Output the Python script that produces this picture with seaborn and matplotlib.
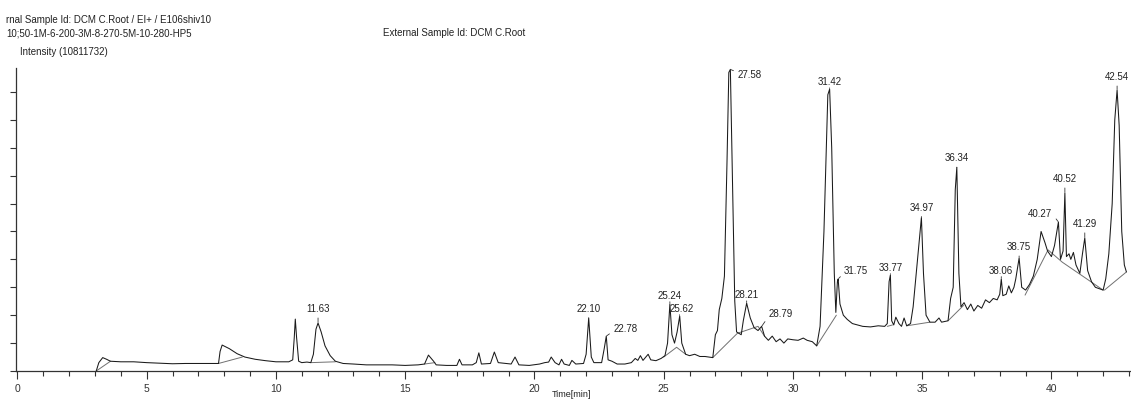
import matplotlib
matplotlib.use("Agg")
import pandas as pd
import matplotlib.pyplot as plt
import seaborn as sns
from matplotlib.ticker import MultipleLocator

# chromatogram trace: time [min], intensity [x 1e6 counts]
trace_time = [
    3.05, 3.15, 3.3, 3.45, 3.6, 4.0, 4.5, 5.0, 5.5, 6.0, 6.5, 7.0, 7.5, 7.78,
    7.84, 7.92, 8.2, 8.5, 8.8, 9.2, 9.6, 10.0, 10.5, 10.65, 10.71, 10.75, 10.8,
    10.88, 11.0, 11.2, 11.35, 11.45, 11.55, 11.63, 11.75, 11.9, 12.1, 12.3, 12.6,
    13.0, 13.5, 14.0, 14.5, 15.0, 15.5, 15.75, 15.9, 16.1, 16.2, 16.6, 17.0,
    17.1, 17.2, 17.6, 17.75, 17.85, 17.95, 18.3, 18.45, 18.6, 19.1, 19.25, 19.4,
    19.8, 20.2, 20.4, 20.55, 20.65, 20.8, 20.95, 21.05, 21.15, 21.35, 21.45,
    21.6, 21.9, 22.0, 22.1, 22.2, 22.3, 22.6, 22.7, 22.78, 22.85, 23.0, 23.2,
    23.5, 23.75, 23.9, 24.0, 24.1, 24.2, 24.4, 24.5, 24.7, 24.9, 25.05, 25.15,
    25.24, 25.32, 25.42, 25.52, 25.62, 25.7, 25.85, 26.0, 26.2, 26.4, 26.6,
    26.9, 27.0, 27.08, 27.15, 27.25, 27.35, 27.45, 27.52, 27.58, 27.68, 27.75,
    27.82, 28.0, 28.08, 28.21, 28.35, 28.5, 28.65, 28.79, 28.9, 29.05, 29.2,
    29.35, 29.5, 29.65, 29.8, 30.0, 30.2, 30.4, 30.55, 30.75, 30.92, 31.05,
    31.2, 31.35, 31.42, 31.5, 31.6, 31.66, 31.72, 31.75, 31.82, 31.95, 32.1,
    32.3, 32.5, 32.7, 33.0, 33.3, 33.55, 33.65, 33.72, 33.77, 33.82, 33.9,
    33.98, 34.1, 34.2, 34.3, 34.4, 34.55, 34.65, 34.8, 34.97, 35.05, 35.15,
    35.3, 35.5, 35.65, 35.75, 36.0, 36.1, 36.2, 36.28, 36.34, 36.42, 36.5,
    36.62, 36.75, 36.88, 37.0, 37.15, 37.3, 37.45, 37.6, 37.75, 37.9, 38.0,
    38.06, 38.12, 38.25, 38.35, 38.45, 38.55, 38.62, 38.75, 38.85, 39.0, 39.15,
    39.3, 39.45, 39.6, 39.75, 39.85, 40.0, 40.12, 40.27, 40.35, 40.45, 40.52,
    40.58, 40.68, 40.75, 40.85, 40.95, 41.1, 41.2, 41.29, 41.4, 41.55, 41.7,
    41.85, 42.0, 42.1, 42.22, 42.35, 42.45, 42.54, 42.62, 42.72, 42.82, 42.9,
]
trace_intensity = [
    0.0, 0.3, 0.48, 0.42, 0.35, 0.33, 0.33, 0.3, 0.28, 0.26, 0.27, 0.27, 0.27, 0.27,
    0.7, 0.93, 0.8, 0.62, 0.5, 0.42, 0.37, 0.33, 0.33, 0.4, 1.2, 1.86, 1.2,
    0.35, 0.3, 0.32, 0.3, 0.6, 1.5, 1.72, 1.4, 0.9, 0.55, 0.35, 0.27,
    0.25, 0.22, 0.22, 0.22, 0.2, 0.22, 0.25, 0.57, 0.35, 0.22, 0.2, 0.2,
    0.42, 0.22, 0.22, 0.3, 0.65, 0.25, 0.27, 0.68, 0.3, 0.25, 0.5, 0.22,
    0.2, 0.25, 0.3, 0.32, 0.5, 0.3, 0.22, 0.42, 0.25, 0.2, 0.38,
    0.25, 0.27, 0.6, 1.9, 0.5, 0.3, 0.3, 0.8, 1.25, 0.4, 0.35, 0.25,
    0.25, 0.3, 0.45, 0.38, 0.55, 0.38, 0.6, 0.4, 0.37, 0.45, 0.55, 1.0,
    2.4, 1.3, 1.0, 1.4, 1.97, 1.0, 0.6, 0.55, 0.6, 0.52, 0.52,
    0.48, 1.3, 1.45, 2.2, 2.6, 3.4, 7.5, 10.7, 10.81, 6.0, 2.5,
    1.4, 1.3, 1.8, 2.43, 1.9, 1.55, 1.45, 1.6, 1.25, 1.1, 1.25,
    1.05, 1.15, 1.0, 1.15, 1.12, 1.1, 1.18, 1.1, 1.05, 0.9, 1.6,
    5.0, 9.9, 10.1, 8.0, 3.5, 2.1, 3.2, 3.3, 2.4, 2.0, 1.85,
    1.7, 1.65, 1.6, 1.58, 1.62, 1.6, 1.7, 3.2, 3.44, 1.8, 1.65,
    1.93, 1.7, 1.6, 1.9, 1.62, 1.7, 2.3, 3.8, 5.5, 3.5, 2.0,
    1.75, 1.75, 1.9, 1.75, 1.8, 2.6, 3.0, 6.5, 7.3, 3.5, 2.3,
    2.45, 2.2, 2.4, 2.15, 2.35, 2.25, 2.55, 2.45, 2.6, 2.55, 2.75,
    3.3, 2.7, 2.75, 3.05, 2.8, 3.0, 3.3, 4.05, 3.0, 2.9, 3.1,
    3.4, 4.0, 5.0, 4.6, 4.3, 4.1, 4.5, 5.34, 4.0, 4.3, 6.38,
    4.1, 4.2, 4.0, 4.25, 3.8, 3.5, 4.2, 4.77, 3.6, 3.2, 3.0,
    2.95, 2.9, 3.3, 4.2, 6.0, 9.0, 10.07, 8.8, 5.0, 3.8, 3.55,
]

# straight integration baselines drawn under the peaks
baseline_seg = [1, 1, 2, 2, 3, 3, 4, 4, 5, 5, 5, 6, 6, 6, 6, 7, 7,
                8, 8, 9, 9, 10, 10, 11, 11, 11, 11, 12, 12]
baseline_time = [3.05, 3.6, 7.78, 8.7, 11.35, 12.3, 15.75, 16.15,
                 25.0, 25.5, 25.85, 26.9, 27.85, 28.65, 28.9, 30.92, 31.68,
                 33.65, 33.85, 34.4, 35.3, 36.0, 36.6,
                 38.98, 39.87, 40.42, 42.0, 42.05, 42.9]
baseline_intensity = [0.0, 0.35, 0.27, 0.5, 0.3, 0.33, 0.25, 0.3,
                      0.5, 0.85, 0.6, 0.48, 1.35, 1.6, 1.25, 0.9, 2.0,
                      1.6, 1.65, 1.62, 1.75, 1.8, 2.35,
                      2.72, 4.34, 3.9, 2.9, 2.9, 3.55]

peak_labels = ["11.63", "22.10", "22.78", "25.24", "25.62", "27.58", "28.21",
               "28.79", "31.42", "31.75", "33.77", "34.97", "36.34", "38.06",
               "38.75", "40.27", "40.52", "41.29", "42.54"]
peak_time = [11.63, 22.10, 22.78, 25.24, 25.62, 27.58, 28.21, 28.79, 31.42,
             31.75, 33.77, 34.97, 36.34, 38.06, 38.75, 40.27, 40.52, 41.29, 42.54]
peak_height = [1.72, 1.9, 1.25, 2.4, 1.97, 10.81, 2.43, 1.6, 10.1, 3.3,
               3.44, 5.5, 7.3, 3.3, 4.05, 5.34, 6.38, 4.77, 10.07]

header_line1 = "rnal Sample Id: DCM C.Root / EI+ / E106shiv10"
header_line2 = "10;50-1M-6-200-3M-8-270-5M-10-280-HP5"
external_id = "External Sample Id: DCM C.Root"
y_title = "Intensity (10811732)"
x_title = "Time[min]"

# label offsets in pixels (dx, dy), horizontal alignment, leader anchor on text
label_layout = [
    (0, 14, "center", (0.5, 0)), (0, 9, "center", (0.5, 0)),
    (7, 7, "left", (0, 0.3)), (0, 8, "center", (0.5, 0)),
    (2, 7, "center", (0.4, 0)), (7, -6, "left", (0, 0.8)),
    (0, 8, "center", (0.5, 0)), (7, 12, "left", (0, 0.3)),
    (0, 7, "center", (0.5, 0)), (6, 8, "left", (0, 0.3)),
    (0, 7, "center", (0.5, 0)), (0, 10, "center", (0.5, 0)),
    (0, 9, "center", (0.5, 0)), (0, 8, "center", (0.5, 0)),
    (0, 11, "center", (0.5, 0)), (-6, 8, "right", (1, 0.5)),
    (0, 14, "center", (0.5, 0)), (0, 14, "center", (0.5, 0)),
    (0, 13, "center", (0.5, 0)),
]

sns.set_style("ticks")
plt.rcParams["font.family"] = ["Liberation Sans", "DejaVu Sans"]

trace = pd.DataFrame({"time": trace_time, "intensity": trace_intensity})
base = pd.DataFrame({"seg": baseline_seg, "time": baseline_time,
                     "intensity": baseline_intensity})

fig = plt.figure(figsize=(11.31, 4.03), dpi=100)
ax = fig.add_axes([0.01415, 0.0794, 0.9859, 0.7519])

sns.lineplot(data=base, x="time", y="intensity", units="seg", estimator=None,
             sort=False, color="#707070", linewidth=0.7, ax=ax)
sns.lineplot(data=trace, x="time", y="intensity", estimator=None, sort=False,
             color="#1a1a1a", linewidth=0.75, ax=ax)

for lab, t, h, (dx, dy, ha, rp) in zip(peak_labels, peak_time, peak_height, label_layout):
    ax.annotate(lab, xy=(t, h), xytext=(dx, dy), textcoords="offset pixels",
                ha=ha, va="center", fontsize=7, color="#222222",
                arrowprops=dict(arrowstyle="-", color="#333333", lw=0.6,
                                shrinkA=0.5, shrinkB=0.5, relpos=rp))

ax.set_xlim(-0.054, 43.08)
ax.set_ylim(0, 10.86)
ax.xaxis.set_major_locator(MultipleLocator(5))
ax.xaxis.set_minor_locator(MultipleLocator(1))
ax.yaxis.set_major_locator(MultipleLocator(1))
ax.set_xticks([0, 5, 10, 15, 20, 25, 30, 35, 40])
ax.tick_params(axis="x", which="major", length=6, width=0.8, labelsize=7.5,
               pad=3, colors="#333333")
ax.tick_params(axis="x", which="minor", length=3.5, width=0.8, colors="#333333")
ax.tick_params(axis="y", which="major", length=4, width=0.8, labelleft=False,
               colors="#333333")
ax.set_xlabel("")
ax.set_ylabel("")
for side in ["top", "right"]:
    ax.spines[side].set_visible(False)
for side in ["left", "bottom"]:
    ax.spines[side].set_color("#333333")
    ax.spines[side].set_linewidth(0.9)

fig.text(6 / 1131, 1 - 20 / 403, header_line1, fontsize=7, va="center", color="#222222")
fig.text(6 / 1131, 1 - 33 / 403, header_line2, fontsize=7, va="center", color="#222222")
fig.text(383 / 1131, 1 - 33 / 403, external_id, fontsize=7, va="center", color="#222222")
fig.text(20 / 1131, 1 - 52 / 403, y_title, fontsize=7, va="center", color="#222222")
fig.text(572 / 1131, 1 - 390 / 403, x_title, fontsize=6.5, ha="center", va="top",
         color="#222222")

fig.savefig("out.png", dpi=100)
